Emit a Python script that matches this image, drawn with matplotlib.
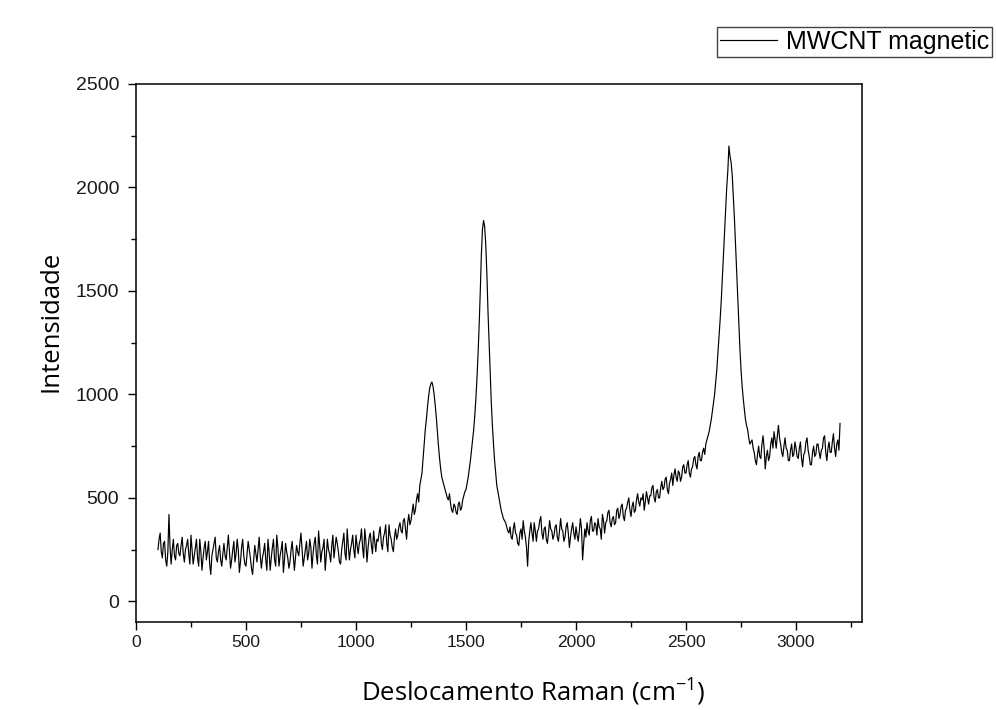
import numpy as np
import matplotlib.pyplot as plt
from matplotlib.ticker import MultipleLocator

# Raman shift, cm-1 (step 5, 100 .. 3200)
shift = np.arange(100, 3201, 5)

# intensity, 20 values per 100 cm-1
intensity = [
    250, 300, 330, 240, 210, 280, 290, 200, 170, 240, 420, 260, 180, 250, 300, 220, 200, 270, 280, 230,  # 100
    220, 270, 310, 230, 190, 250, 270, 300, 230, 180, 320, 250, 180, 220, 260, 300, 210, 170, 300, 240,  # 200
    150, 210, 260, 290, 200, 240, 290, 180, 130, 220, 250, 280, 310, 210, 190, 240, 270, 200, 170, 230,  # 300
    280, 220, 200, 260, 320, 240, 160, 200, 250, 290, 190, 230, 300, 250, 140, 190, 260, 300, 220, 180,  # 400
    170, 230, 290, 250, 210, 160, 130, 200, 270, 230, 190, 250, 310, 220, 160, 210, 240, 280, 200, 150,  # 500
    300, 240, 150, 210, 260, 300, 200, 170, 320, 260, 170, 220, 250, 290, 140, 200, 280, 240, 210, 160,  # 600
    190, 250, 290, 220, 150, 210, 270, 240, 220, 280, 330, 250, 170, 210, 250, 290, 200, 230, 300, 260,  # 700
    160, 230, 280, 310, 220, 180, 340, 270, 190, 240, 260, 300, 150, 220, 300, 250, 230, 190, 270, 320,  # 800
    210, 260, 310, 280, 240, 190, 180, 250, 290, 330, 230, 200, 350, 270, 200, 250, 280, 320, 250, 210,  # 900
    320, 270, 230, 280, 300, 350, 260, 210, 350, 290, 190, 260, 310, 330, 270, 230, 340, 290, 240, 300,  # 1000
    290, 330, 360, 280, 250, 310, 330, 370, 280, 240, 370, 320, 300, 260, 240, 310, 350, 300, 320, 360,  # 1100
    380, 340, 330, 390, 400, 350, 300, 380, 420, 370, 390, 430, 470, 420, 440, 490, 520, 480, 560, 590,  # 1200
    620, 690, 760, 830, 880, 940, 990, 1030, 1050, 1060, 1040, 1000, 950, 890, 820, 750, 690, 640, 600, 580,  # 1300
    560, 540, 520, 500, 490, 520, 470, 440, 430, 470, 460, 430, 420, 470, 480, 440, 450, 490, 510, 530,  # 1400
    540, 570, 600, 640, 680, 730, 780, 830, 900, 980, 1080, 1200, 1340, 1500, 1680, 1800, 1840, 1810, 1720, 1580,  # 1500
    1400, 1250, 1100, 960, 850, 760, 680, 620, 560, 530, 500, 470, 440, 420, 400, 390, 380, 360, 340, 330,  # 1600
    360, 310, 300, 350, 380, 330, 320, 280, 270, 330, 350, 300, 390, 340, 310, 260, 170, 290, 340, 380,  # 1700
    330, 290, 380, 340, 290, 340, 350, 390, 410, 330, 300, 350, 360, 300, 280, 330, 390, 350, 340, 300,  # 1800
    320, 360, 370, 310, 290, 340, 400, 350, 340, 290, 310, 360, 380, 330, 260, 310, 350, 380, 330, 300,  # 1900
    360, 320, 290, 340, 400, 350, 200, 280, 350, 310, 380, 340, 320, 390, 410, 340, 340, 380, 370, 320,  # 2000
    400, 360, 350, 300, 420, 390, 330, 380, 390, 430, 440, 380, 360, 400, 410, 370, 380, 440, 450, 400,  # 2100
    420, 460, 470, 410, 390, 440, 450, 480, 500, 440, 410, 460, 480, 430, 440, 490, 520, 480, 460, 500,  # 2200
    490, 520, 440, 480, 530, 500, 470, 510, 510, 550, 560, 500, 480, 530, 540, 500, 500, 550, 580, 540,  # 2300
    550, 590, 600, 540, 520, 570, 590, 620, 560, 610, 640, 600, 580, 630, 620, 580, 600, 650, 660, 620,  # 2400
    620, 660, 680, 620, 600, 640, 650, 690, 700, 660, 640, 700, 720, 680, 680, 720, 740, 710, 760, 780,  # 2500
    800, 820, 850, 880, 920, 960, 1000, 1060, 1120, 1200, 1280, 1360, 1450, 1560, 1680, 1790, 1900, 2000, 2080, 2200,  # 2600
    2150, 2120, 2060, 1960, 1850, 1730, 1600, 1470, 1330, 1220, 1120, 1040, 980, 930, 880, 850, 830, 790, 760, 770,  # 2700
    780, 740, 720, 680, 660, 710, 750, 700, 690, 760, 800, 740, 640, 700, 730, 680, 700, 760, 790, 740,  # 2800
    820, 780, 740, 800, 850, 790, 760, 720, 700, 750, 790, 740, 730, 680, 680, 730, 760, 700, 710, 770,  # 2900
    740, 700, 690, 740, 770, 690, 650, 710, 720, 770, 790, 730, 700, 660, 660, 720, 750, 700, 710, 760,  # 3000
    760, 720, 690, 730, 740, 790, 800, 720, 680, 740, 770, 720, 720, 770, 810, 740, 700, 760, 780, 730,  # 3100
    860,
]

fig = plt.figure(figsize=(9.96, 7.1), dpi=100)
ax = fig.add_axes([0.1365, 0.1239, 0.729, 0.7578])

ax.plot(shift, intensity, color="black", lw=0.85, label="MWCNT magnetic")

ax.set_xlim(0, 3300)
ax.set_ylim(-100, 2500)
ax.xaxis.set_major_locator(MultipleLocator(500))
ax.xaxis.set_minor_locator(MultipleLocator(250))
ax.yaxis.set_major_locator(MultipleLocator(500))
ax.yaxis.set_minor_locator(MultipleLocator(250))
ax.tick_params(which="both", direction="out", top=False, right=False)
ax.tick_params(which="major", length=6, width=1)
ax.tick_params(which="minor", length=3.5, width=1)
ax.tick_params(axis="y", pad=6)
for lab in ax.get_xticklabels():
    lab.set_family("Liberation Sans")
    lab.set_fontsize(12.5)
    lab.set_color("#1a1a1a")
for lab in ax.get_yticklabels():
    lab.set_family("Liberation Sans")
    lab.set_fontsize(14)
    lab.set_color("#1a1a1a")
for s in ax.spines.values():
    s.set_linewidth(1.1)

ax.set_xlabel("Deslocamento Raman (cm$^{\\mathregular{-1}}$)", family="Open Sans", fontsize=18.5)
ax.set_ylabel("Intensidade", family="Open Sans", fontsize=18.5)
ax.xaxis.set_label_coords(0.547, -0.098)
ax.yaxis.set_label_coords(-0.100, 0.558)

fig.legend(loc="upper right", bbox_to_anchor=(992 / 996, 1 - 27 / 710),
           frameon=True, fancybox=False, edgecolor="#444444", framealpha=1,
           prop={"family": "Liberation Sans", "size": 18}, handlelength=2.3,
           borderpad=0.12, handletextpad=0.35, borderaxespad=0)

fig.savefig("out.png", dpi=100)
